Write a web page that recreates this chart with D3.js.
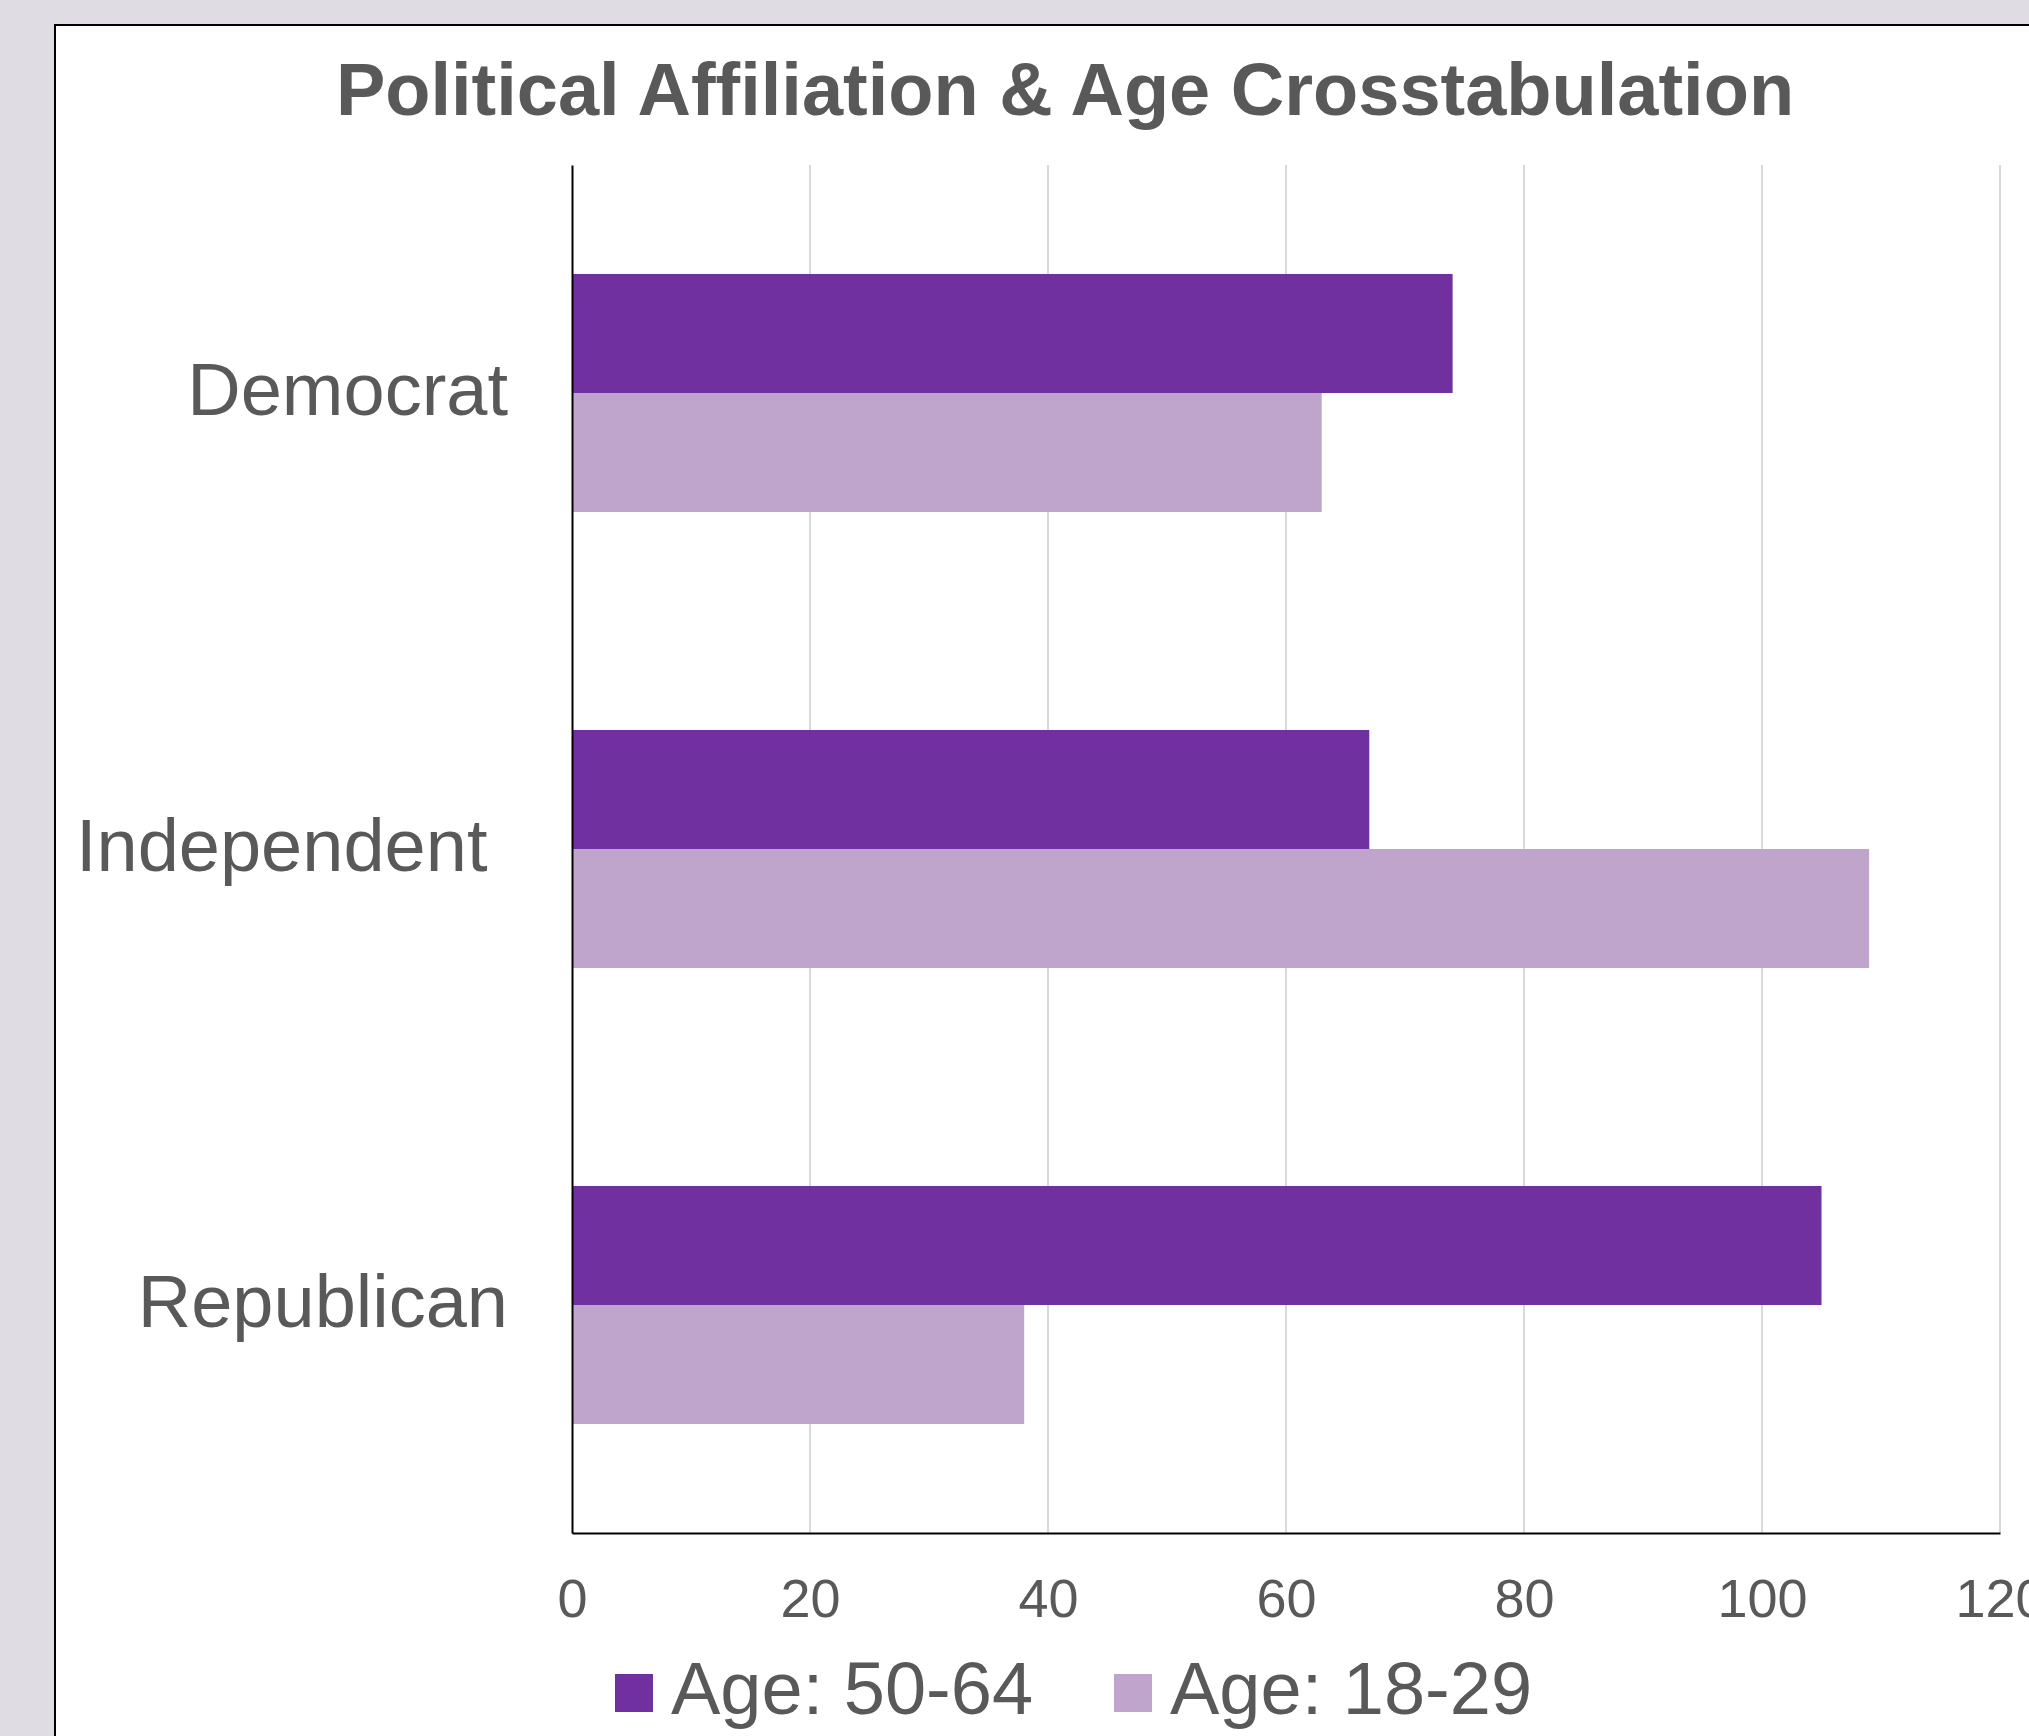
<!DOCTYPE html>
<html>
<head>
<meta charset="utf-8">
<script src="https://cdn.jsdelivr.net/npm/d3@7"></script>
<style>
  html, body { margin: 0; padding: 0; background: #dfdce3; overflow: hidden; }
  svg { display: block; }
  text { font-family: Arial, "Liberation Sans", sans-serif; }
</style>
</head>
<body>
<svg id="chart" width="2029" height="1736"></svg>
<script>
const categories = ["Democrat", "Independent ", "Republican"];
const seriesNames = ["Age: 50-64", "Age: 18-29"];
const age5064 = [74, 67, 105];
const age1829 = [63, 109, 38];
const tickValues = [0, 20, 40, 60, 80, 100, 120];
const title = "Political Affiliation & Age Crosstabulation";
const colors = ["#7030a0", "#bfa5cb"];

const seriesValues = [age5064, age1829];
const textColor = "#595959";

const svg = d3.select("#chart");
svg.append("rect").attr("x", 0).attr("y", 0).attr("width", 2029).attr("height", 1736).attr("fill", "#dfdce3");
svg.append("rect").attr("x", 55).attr("y", 25).attr("width", 2100).attr("height", 1800)
  .attr("fill", "#ffffff").attr("stroke", "#000").attr("stroke-width", 2);

const x = d3.scaleLinear().domain([0, 120]).range([572, 2000]);
const y = d3.scaleBand().domain(categories).range([165, 1533]).paddingInner(0.478).paddingOuter(0.239);
const ys = d3.scaleBand().domain(seriesNames).range([0, y.bandwidth()]);

// gridlines
svg.append("g").selectAll("line").data(tickValues.filter(d => d > 0)).join("line")
  .attr("x1", d => x(d)).attr("x2", d => x(d))
  .attr("y1", 165).attr("y2", 1533)
  .attr("stroke", "#d9d9d9").attr("stroke-width", 2);

// bars
const groups = svg.append("g").selectAll("g").data(categories).join("g")
  .attr("transform", d => `translate(0,${y(d)})`);
groups.selectAll("rect").data((c, i) => seriesNames.map((s, j) => ({ s, j, v: seriesValues[j][i] })))
  .join("rect")
  .attr("x", x(0))
  .attr("y", d => ys(d.s))
  .attr("width", d => x(d.v) - x(0))
  .attr("height", ys.bandwidth())
  .attr("fill", d => colors[d.j]);

// x axis
const xAxis = svg.append("g").attr("transform", "translate(0,1533)")
  .call(d3.axisBottom(x).tickValues(tickValues).tickSize(0).tickPadding(46).tickFormat(d3.format("d")));
xAxis.select(".domain").attr("stroke", "#000").attr("stroke-width", 2);
xAxis.selectAll("text").attr("fill", textColor).style("font-size", "54px").style("font-family", "Arial, 'Liberation Sans', sans-serif");

// y axis
const yAxis = svg.append("g").attr("transform", "translate(572,0)")
  .call(d3.axisLeft(y).tickSize(0).tickPadding(64));
yAxis.select(".domain").attr("stroke", "#000").attr("stroke-width", 2);
yAxis.selectAll("text").attr("fill", textColor).attr("dy", "0.3em")
  .style("font-size", "74px").style("white-space", "pre")
  .style("font-family", "Arial, 'Liberation Sans', sans-serif");

// title
svg.append("text").attr("x", 1065).attr("y", 115).attr("text-anchor", "middle")
  .attr("fill", textColor).style("font-size", "74px").style("font-weight", "bold")
  .text(title);

// legend
const legendX = [615, 1114];
const lg = svg.append("g").selectAll("g").data(seriesNames).join("g")
  .attr("transform", (d, i) => `translate(${legendX[i]},0)`);
lg.append("rect").attr("x", 0).attr("y", 1674).attr("width", 38).attr("height", 38)
  .attr("fill", (d, i) => colors[i]);
lg.append("text").attr("x", 56).attr("y", 1714).attr("fill", textColor)
  .style("font-size", "74px").text(d => d);
</script>
</body>
</html>
